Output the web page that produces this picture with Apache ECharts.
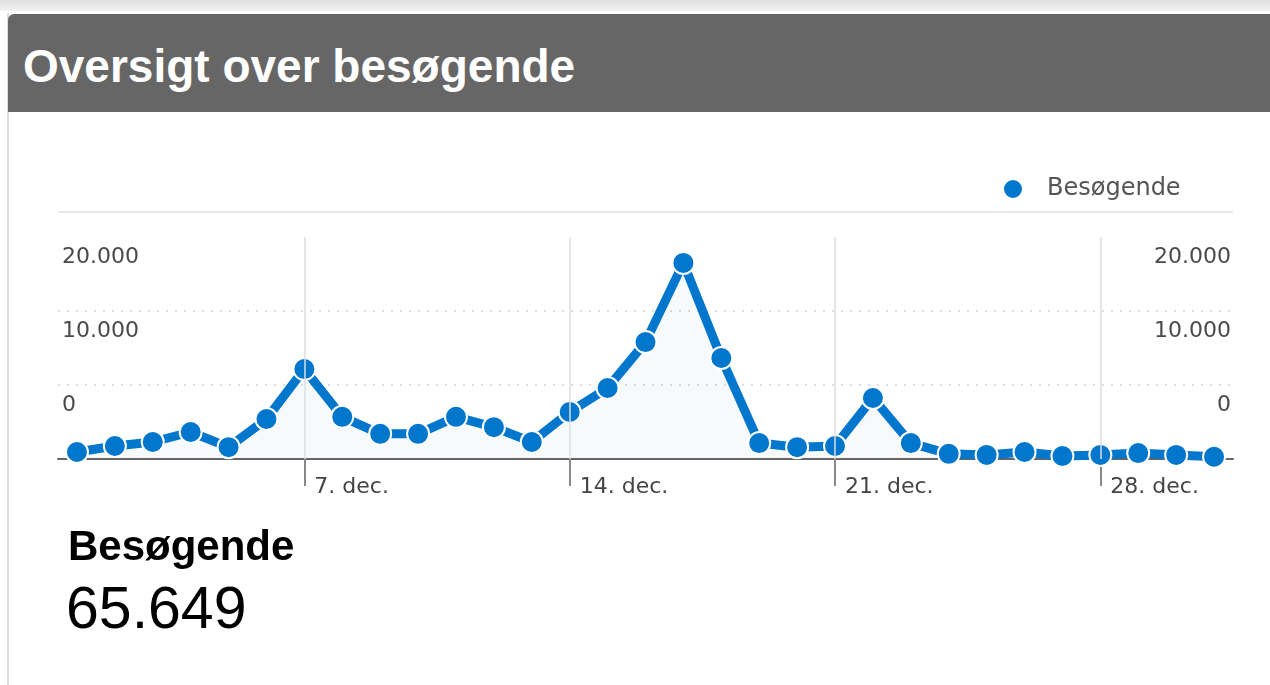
<!DOCTYPE html>
<html>
<head>
<meta charset="utf-8">
<title>Oversigt over besøgende</title>
<script src="https://cdn.jsdelivr.net/npm/echarts@6/dist/echarts.min.js"></script>
<style>
    html, body {
        margin: 0;
        padding: 0;
        width: 1270px;
        height: 685px;
        overflow: hidden;
        background: #fff;
        font-family: "Liberation Sans", Arial, sans-serif;
    }
    #topstrip {
        position: absolute; left: 0; top: 0; width: 1270px; height: 11px;
        background: linear-gradient(#e0e0e0, #f2f2f2);
    }
    #panel {
        position: absolute; left: 7px; top: 13px; width: 1263px; height: 672px;
        border-left: 2px solid #dcdcdc;
    }
    #chart {
        position: absolute; left: 0; top: 0; width: 1270px; height: 685px;
    }
    #header {
        position: absolute; left: 8px; top: 14px; width: 1262px; height: 98px;
        background: #666;
        border-radius: 6px 0 0 0;
    }
    #header span {
        position: absolute; left: 15px; top: 29px;
        font-size: 46px; line-height: 46px; color: #fff; font-weight: bold;
        white-space: nowrap;
    }
    .stat {
        position: absolute; color: #000; white-space: nowrap;
    }
    #statName { left: 68px; top: 525px; font-size: 42px; line-height: 42px; font-weight: bold; }
    #statValue { left: 66px; top: 579px; font-size: 59px; line-height: 59px; }
</style>
</head>
<body>
<div id="topstrip"></div>
<div id="panel"></div>
<div id="chart"></div>
<div id="header"><span>Oversigt over besøgende</span></div>
<div class="stat" id="statName">Besøgende</div>
<div class="stat" id="statValue">65.649</div>

<script>
// dage i december
const days = [
    "1. dec.", "2. dec.", "3. dec.", "4. dec.", "5. dec.", "6. dec.", "7. dec.",
    "8. dec.", "9. dec.", "10. dec.", "11. dec.", "12. dec.", "13. dec.", "14. dec.",
    "15. dec.", "16. dec.", "17. dec.", "18. dec.", "19. dec.", "20. dec.", "21. dec.",
    "22. dec.", "23. dec.", "24. dec.", "25. dec.", "26. dec.", "27. dec.", "28. dec.",
    "29. dec.", "30. dec.", "31. dec."
];

// besøgende pr. dag
const visitors = [
    950, 1750, 2300, 3650, 1600, 5400, 12150,
    5700, 3400, 3400, 5700, 4300, 2300, 6350,
    9600, 15800, 26500, 13650, 2150, 1600, 1750,
    8250, 2150, 700, 550, 950, 400, 550,
    800, 550, 300
];

// de dage der har en etiket på x-aksen
const markedDays = ["7. dec.", "14. dec.", "21. dec.", "28. dec."];

// y-akse
const yMin = 0;
const yMax = 30000;
const yStep = 10000;

const seriesName = "Besøgende";

function formatNumber(v) {
    if (v >= yMax) return "";
    return String(v).replace(/\B(?=(\d{3})+(?!\d))/g, ".");
}

function isMarked(index, value) {
    return markedDays.indexOf(value) !== -1;
}

const markedIdx = markedDays.map(d => days.indexOf(d));

const chart = echarts.init(document.getElementById("chart"));

const yLabel = {
    inside: true,
    margin: 4,
    showMaxLabel: false,
    verticalAlign: "bottom",
    padding: [0, 0, 43, 0],
    color: "#4a4a4a",
    fontSize: 22,
    fontFamily: "DejaVu Sans",
    formatter: formatNumber
};

chart.setOption({
    animation: false,
    grid: { left: 58, right: 37, top: 237, bottom: 226 },
    legend: {
        data: [seriesName],
        left: 1002,
        top: 177,
        padding: 0,
        icon: "circle",
        itemWidth: 58,
        itemHeight: 20,
        selectedMode: false,
        textStyle: { color: "#555", fontSize: 24, fontFamily: "DejaVu Sans" }
    },
    graphic: [{
        type: "line",
        silent: true,
        shape: { x1: 58, y1: 212, x2: 1233, y2: 212 },
        style: { stroke: "#e8e8e8", lineWidth: 2 }
    }],
    xAxis: {
        type: "category",
        data: days,
        boundaryGap: true,
        axisLine: { lineStyle: { color: "#666", width: 2 } },
        axisTick: {
            show: true,
            alignWithLabel: true,
            customValues: markedIdx,
            length: 27,
            lineStyle: { color: "#888", width: 2 }
        },
        axisLabel: {
            interval: isMarked,
            align: "left",
            padding: [0, 0, 0, 10],
            margin: 17,
            color: "#444",
            fontSize: 22,
            fontFamily: "DejaVu Sans"
        },
        splitLine: { show: false }
    },
    yAxis: [{
        type: "value",
        position: "left",
        min: yMin, max: yMax, interval: yStep,
        axisLine: { show: false },
        axisTick: { show: false },
        axisLabel: yLabel,
        splitLine: {
            lineStyle: {
                color: ["transparent", "#d2d2d2", "#d2d2d2", "transparent"],
                type: [2, 7],
                width: 1.5
            }
        }
    }, {
        type: "value",
        position: "right",
        min: yMin, max: yMax, interval: yStep,
        axisLine: { show: false },
        axisTick: { show: false },
        axisLabel: Object.assign({}, yLabel, { margin: 2 }),
        splitLine: { show: false }
    }],
    series: [{
        // kun til de lodrette hjælpelinjer
        type: "line",
        name: "gridlines",
        data: visitors,
        symbol: "none",
        lineStyle: { opacity: 0 },
        silent: true,
        z: 1,
        markLine: {
            silent: true,
            symbol: ["none", "none"],
            label: { show: false },
            lineStyle: { color: "#dedede", width: 1.5, type: "solid" },
            data: markedDays.map(d => ({ xAxis: d }))
        }
    }, {
        name: seriesName,
        type: "line",
        data: visitors,
        z: 3,
        symbol: "circle",
        symbolSize: 22,
        showAllSymbol: true,
        lineStyle: { color: "#0077cc", width: 9 },
        itemStyle: { color: "#0077cc", borderColor: "#fff", borderWidth: 2 },
        areaStyle: { color: "rgba(0,119,204,0.05)" }
    }]
});
</script>
</body>
</html>
